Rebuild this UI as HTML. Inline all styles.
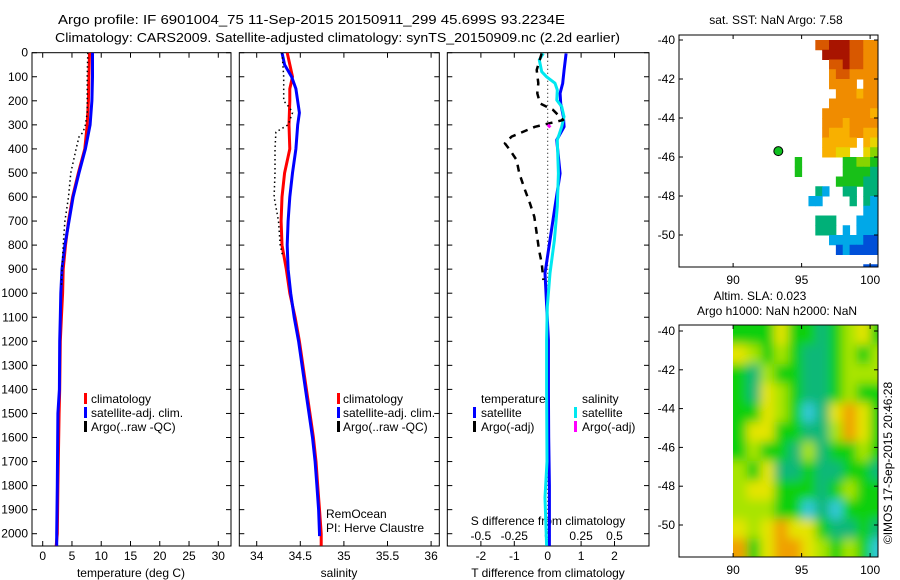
<!DOCTYPE html>
<html><head><meta charset="utf-8"><title>Argo profile</title>
<style>
html,body{margin:0;padding:0;background:#fff;}
svg{display:block;font-family:"Liberation Sans",sans-serif;}
text{font-size:12px;fill:#000;}
</style></head>
<body>
<svg id="fig" width="900" height="580" viewBox="0 0 900 580">
<defs>
<clipPath id="clipSST"><rect x="679" y="35" width="199" height="232"/></clipPath>
<clipPath id="clipSLA"><rect x="733" y="325" width="145" height="232"/></clipPath>
<clipPath id="clipP1"><rect x="32" y="52.7" width="199" height="493.3"/></clipPath>
<clipPath id="clipP2"><rect x="239.3" y="52.7" width="200" height="493.3"/></clipPath>
<clipPath id="clipP3"><rect x="447.3" y="52.7" width="201.7" height="493.3"/></clipPath>
<filter id="blurSLA" x="-5%" y="-5%" width="110%" height="110%"><feGaussianBlur stdDeviation="5"/></filter>
</defs>
<text x="58" y="24" textLength="507" lengthAdjust="spacingAndGlyphs" style="font-size:13px">Argo profile: IF 6901004_75 11-Sep-2015 20150911_299 45.699S 93.2234E</text>
<text x="55" y="42" textLength="565" lengthAdjust="spacingAndGlyphs" style="font-size:13px">Climatology: CARS2009. Satellite-adjusted climatology: synTS_20150909.nc (2.2d earlier)</text>
</svg>
<script>
// ---------- profile data ----------
const depthTicks = [0,100,200,300,400,500,600,700,800,900,1000,1100,1200,1300,1400,1500,1600,1700,1800,1900,2000];
const tempTicks = [0,5,10,15,20,25,30];
const salTicks = [34,34.5,35,35.5,36];
const salTickLabels = ["34","34.5","35","35.5","36"];
const tdiffTicks = [-2,-1,0,1,2];
const sdiffTicks = [-0.5,-0.25,0,0.25,0.5];
const sdiffTickLabels = ["-0.5","-0.25","0","0.25","0.5"];

const tempClimDepth = [0,100,200,300,400,500,600,700,800,900,1000,1100,1200,1400,1500,1800,2000,2050];
const tempClim      = [8.0,7.9,7.8,7.6,7.2,6.1,5.1,4.4,3.9,3.5,3.4,3.2,3.0,2.9,2.8,2.6,2.5,2.3];
const tempSatDepth  = [0,100,200,300,400,500,600,700,800,900,1000,1100,1200,1400,1500,1800,2000,2050];
const tempSat       = [8.5,8.5,8.4,8.1,7.3,6.2,5.2,4.5,3.8,3.3,3.1,3.0,2.9,2.85,2.6,2.5,2.4,2.4];
const tempArgoDepth = [0,100,250,300,330,350,400,500,600,700,800,900,970];
const tempArgo      = [7.7,7.6,7.6,7.3,6.9,6.2,5.7,4.8,4.4,3.8,3.5,3.3,3.2];

const salClimDepth = [0,100,150,200,300,400,500,600,700,800,900,1000,1100,1200,1400,1500,1600,1700,1800,1900,2000,2050];
const salClim      = [34.35,34.41,34.38,34.38,34.37,34.38,34.32,34.29,34.28,34.29,34.34,34.38,34.44,34.49,34.57,34.61,34.65,34.68,34.70,34.72,34.74,34.74];
const salSatDepth  = [0,50,100,150,250,300,400,500,600,700,800,900,1000,1100,1200,1400,1500,1600,1700,1800,1900,2000,2010];
const salSat       = [34.29,34.32,34.40,34.45,34.49,34.47,34.45,34.41,34.38,34.36,34.35,34.36,34.39,34.43,34.48,34.56,34.60,34.64,34.67,34.69,34.71,34.72,34.72];
const salArgoDepth = [0,50,100,200,230,250,300,330,400,500,600,700,800,850];
const salArgo      = [34.29,34.30,34.31,34.31,34.38,34.41,34.36,34.22,34.21,34.21,34.20,34.25,34.27,34.30];

const tdSatDepth = [3,72,127,169,211,266,308,363,502,640,779,917,1056,1195,1400,1600,1800,2050];
const tdSat      = [0.55,0.49,0.45,0.37,0.39,0.47,0.49,0.27,0.37,0.22,0.07,-0.08,-0.03,0.02,0.02,0.03,0.05,0.05];
const sdSatDepth = [3,30,79,100,127,155,197,224,266,308,363,502,640,779,917,1056,1195,1400,1700,1850,2050];
const sdSat      = [-0.033,-0.063,-0.045,-0.008,0.055,0.072,0.068,0.105,0.122,0.105,0.072,0.08,0.072,0.05,0.017,-0.003,-0.008,-0.008,-0.005,-0.02,-0.008];
const tdArgoDepth = [3,72,127,169,211,238,280,308,349,377,405,446,502,571,627,682,751,820,875,945];
const tdArgo      = [-0.18,-0.33,-0.28,-0.31,-0.23,0.16,0.46,-0.38,-1.08,-1.28,-1.13,-0.93,-0.85,-0.68,-0.53,-0.40,-0.33,-0.26,-0.18,-0.13];
const sdArgoDepth = [300,310];
const sdArgo      = [0.0,0.02];

// ---------- map data ----------
const sstLonStart = 94.5, sstLonStep = 0.5, sstLatStart = -40, sstLatStep = 0.5;
const sstRows = [
"...889998877","....99998877",".....8898877",".....7887777",".....7777.77","......777677",
".....7777777","....77777776","....77767777","....76667766","....66666.65","....6655..54",
"3......33443","3......33332","......333322","...21..22.22","..11....2.21","..........11",
"...222...111","...222.1.111",".....1111100","......010000","............","..........00"];
const argoLon = 93.3, argoLat = -45.7;
const lonTicks = [90,95,100];
const latTicks = [-40,-42,-44,-46,-48,-50];
const slaLonStart = 90, slaLatStart = -39.7;
const slaGrid = [
[2,2,2,4,2,2,1,2,3,4,2],
[4,3,2,3,2,1,1,2,3,2,3],
[2,1,3,2,2,1,1,2,3,3,3],
[2,1,4,3,2,1,1,2,3,2,2],
[2,2,4,3,2,0,1,4,5,4,2],
[2,4,4,2,2,1,1,3,5,4,2],
[2,3,2,2,1,3,1,2,2,3,2],
[3,2,4,1,1,2,1,1,2,2,1],
[3,4,4,2,2,2,1,2,3,2,2],
[3,3,3,2,2,0,1,0,2,2,2],
[4,3,4,5,4,4,2,1,1,2,1],
[5,2,4,5,5,4,3,2,3,2,0]];

const sstPalette = ["#0050d8","#00a8e8","#00b078","#18c018","#88d400","#e8d400","#f8b000","#f08c00","#d85800","#a81400"];
const slaPalette = ["#30c8d8","#10b878","#10d010","#a8e400","#e4e400","#f0a000"];

// ---------- scales ----------
const NS = "http://www.w3.org/2000/svg";
const svg = document.getElementById("fig");
function el(tag, attrs, parent){ const e=document.createElementNS(NS,tag); for(const k in attrs) e.setAttribute(k,attrs[k]); (parent||svg).appendChild(e); return e; }
const yD = d => 52.7 + d*0.2405;
const xT = v => 42.7 + v*5.853;
const xS = v => 256.7 + (v-34)*87.2;
const xTD = v => 547.7 + v*33.4;
const xSD = v => 547.7 + v*133.6;
const lonX = v => 679 + (v-86.05)*13.7;
const latY1 = v => 40 + (-40 - v)*19.5;
const latY2 = v => 331 + (-40 - v)*19.4;

// ---------- panels ----------
const panels = [
 {x0:32,x1:231,name:"temperature-panel"},
 {x0:239.3,x1:439.3,name:"salinity-panel"},
 {x0:447.3,x1:649,name:"difference-panel"}];
panels.forEach((p,i)=>{
  const r = el("rect",{x:p.x0,y:52.7,width:p.x1-p.x0,height:546-52.7,fill:"none",stroke:"#000","stroke-width":1});
  
  
  depthTicks.forEach(d=>{
    const t1 = el("line",{x1:p.x0,x2:p.x0+5,y1:yD(d),y2:yD(d),stroke:"#000"});
    
    
    const t2 = el("line",{x1:p.x1,x2:p.x1-5,y1:yD(d),y2:yD(d),stroke:"#000"});
    
    
    if(i===0){
      const lb = el("text",{x:28,y:yD(d)+4,"text-anchor":"end"});
      lb.textContent = d;
      
      
    }
  });
});
function xTicks(vals, fx, labels, ly){
  vals.forEach((v,k)=>{
    const x=fx(v);
    const a=el("line",{x1:x,x2:x,y1:52.7,y2:57.7,stroke:"#000"});
    
    
    const b=el("line",{x1:x,x2:x,y1:546,y2:541,stroke:"#000"});
    
    
    const t=el("text",{x:x,y:ly,"text-anchor":"middle"});
    t.textContent = labels ? labels[k] : String(v);
    
    
  });
}
xTicks(tempTicks, xT, null, 560);
xTicks(salTicks, xS, salTickLabels, 560);
xTicks(tdiffTicks, xTD, null, 560);
sdiffTicks.forEach((v,k)=>{
  const t=el("text",{x:xSD(v),y:540,"text-anchor":"middle"});
  t.textContent = sdiffTickLabels[k];
  
  
});
function label(x,y,txt,name,anchor){
  const t=el("text",{x:x,y:y,"text-anchor":anchor||"middle"});
  t.textContent=txt;
  
  
  return t;
}
label(131,577,"temperature (deg C)","x-axis-title-temperature");
label(339,577,"salinity","x-axis-title-salinity");
label(548,577,"T difference from climatology","x-axis-title-t-difference");
label(548,525,"S difference from climatology","s-difference-axis-title");

// zero line
const z = el("line",{x1:xTD(0),x2:xTD(0),y1:52.7,y2:546,stroke:"#000","stroke-dasharray":"1,3","stroke-width":1});



function series(depths, vals, fx, color, w, dash, clip, name){
  const pts = depths.map((d,k)=>fx(vals[k]).toFixed(1)+","+yD(d).toFixed(1)).join(" ");
  const a = {points:pts,fill:"none",stroke:color,"stroke-width":w,"clip-path":"url(#"+clip+")","stroke-linejoin":"round"};
  if(dash) a["stroke-dasharray"]=dash;
  const p = el("polyline",a);
  
  
}
series(tempClimDepth,tempClim,xT,"#ff0000",3,null,"clipP1","temperature-climatology-line");
series(tempSatDepth,tempSat,xT,"#0000ff",3,null,"clipP1","temperature-satellite-line");
series(tempArgoDepth,tempArgo,xT,"#000",1.5,"1.5,3","clipP1","temperature-argo-line");
series(salClimDepth,salClim,xS,"#ff0000",3,null,"clipP2","salinity-climatology-line");
series(salSatDepth,salSat,xS,"#0000ff",3,null,"clipP2","salinity-satellite-line");
series(salArgoDepth,salArgo,xS,"#000",1.5,"1.5,3","clipP2","salinity-argo-line");
series(tdSatDepth,tdSat,xTD,"#0000ff",3,null,"clipP3","t-diff-satellite-line");
series(sdSatDepth,sdSat,xSD,"#00e8f0",3,null,"clipP3","s-diff-satellite-line");
series(tdArgoDepth,tdArgo,xTD,"#000",2.5,"7,6","clipP3","t-diff-argo-line");
series(sdArgoDepth,sdArgo,xSD,"#ff00ff",3,null,"clipP3","s-diff-argo-line");

// legends
function legItem(bx,tx,y,color,txt,name){
  const r=el("rect",{x:bx,y:y-10,width:3,height:11,fill:color});
  
  
  label(tx,y,txt,name,"start");
}
legItem(84,91,403,"#ff0000","climatology","legend-climatology");
legItem(84,91,417,"#0000ff","satellite-adj. clim.","legend-satellite");
legItem(84,91,431,"#000","Argo(..raw -QC)","legend-argo");
legItem(337,343,403,"#ff0000","climatology","legend-climatology-s");
legItem(337,343,417,"#0000ff","satellite-adj. clim.","legend-satellite-s");
legItem(337,343,431,"#000","Argo(..raw -QC)","legend-argo-s");
label(481,403,"temperature","legend-temperature-header","start");
legItem(473,481,417,"#0000ff","satellite","legend-t-satellite");
legItem(473,481,431,"#000","Argo(-adj)","legend-t-argo");
label(582,403,"salinity","legend-salinity-header","start");
legItem(574,582,417,"#00e8f0","satellite","legend-s-satellite");
legItem(574,582,431,"#ff00ff","Argo(-adj)","legend-s-argo");
label(326,518,"RemOcean","float-project-label","start");
label(326,532,"PI: Herve Claustre","pi-label","start");

// ---------- SST map ----------
const sstG = el("g",{"clip-path":"url(#clipSST)"});


sstRows.forEach((row,ri)=>{
  for(let ci=0; ci<row.length; ci++){
    const ch=row[ci]; if(ch===".") continue;
    const lon=sstLonStart+ci*sstLonStep, lat=sstLatStart-ri*sstLatStep;
    const x0=lonX(lon), x1=lonX(lon+sstLonStep), y0=latY1(lat), y1=latY1(lat-sstLatStep);
    const c=el("rect",{x:x0,y:y0,width:x1-x0+0.5,height:y1-y0+0.5,fill:sstPalette[+ch]},sstG);
    
    
  }
});
const am = el("circle",{cx:lonX(argoLon),cy:latY1(argoLat),r:4.5,fill:"#10c020",stroke:"#000","stroke-width":1});



// ---------- SLA map ----------
const slaBase = el("rect",{x:733,y:325,width:145,height:232,fill:"#10d010"});


const slaClip = el("g",{"clip-path":"url(#clipSLA)"});


const slaG = el("g",{filter:"url(#blurSLA)"},slaClip);


slaGrid.forEach((row,ri)=>{
  row.forEach((v,ci)=>{
    const lon=slaLonStart+ci, lat=slaLatStart-ri;
    const x0=lonX(lon)-(ci===0?10:0), x1=lonX(lon+1)+(ci===row.length-1?10:0);
    const y0=latY2(lat)-(ri===0?10:0), y1=latY2(lat-1)+(ri===slaGrid.length-1?10:0);
    const c=el("rect",{x:x0,y:y0,width:x1-x0+0.5,height:y1-y0+0.5,fill:slaPalette[v]},slaG);
    
    
  });
});

// map frames & ticks
function mapAxes(y0,y1,latY,nm){
  const f=el("rect",{x:679,y:y0,width:199,height:y1-y0,fill:"none",stroke:"#000"});
  
  
  lonTicks.forEach(v=>{
    const x=lonX(v);
    const a=el("line",{x1:x,x2:x,y1:y0,y2:y0+4,stroke:"#000"});
    
    
    const b=el("line",{x1:x,x2:x,y1:y1,y2:y1-4,stroke:"#000"});
    
    
    label(x,y1+17,String(v),nm+'-lon-label');
  });
  latTicks.forEach(v=>{
    const y=latY(v);
    const a=el("line",{x1:679,x2:683,y1:y,y2:y,stroke:"#000"});
    
    
    const b=el("line",{x1:878,x2:874,y1:y,y2:y,stroke:"#000"});
    
    
    label(675,y+4,String(v),nm+'-lat-label',"end");
  });
}
mapAxes(35,267,latY1,"sst-map");
mapAxes(325,557,latY2,"sla-map");
label(776,24,"sat. SST: NaN Argo: 7.58","sst-map-title");
label(760,300,"Altim. SLA: 0.023","sla-map-title");
label(777,315,"Argo h1000: NaN h2000: NaN","sla-map-subtitle");
const cp = el("text",{x:0,y:0,"text-anchor":"middle",transform:"translate(892,463) rotate(-90)"});
cp.textContent = "\u00A9IMOS 17-Sep-2015 20:46:28";


</script>
</body></html>
